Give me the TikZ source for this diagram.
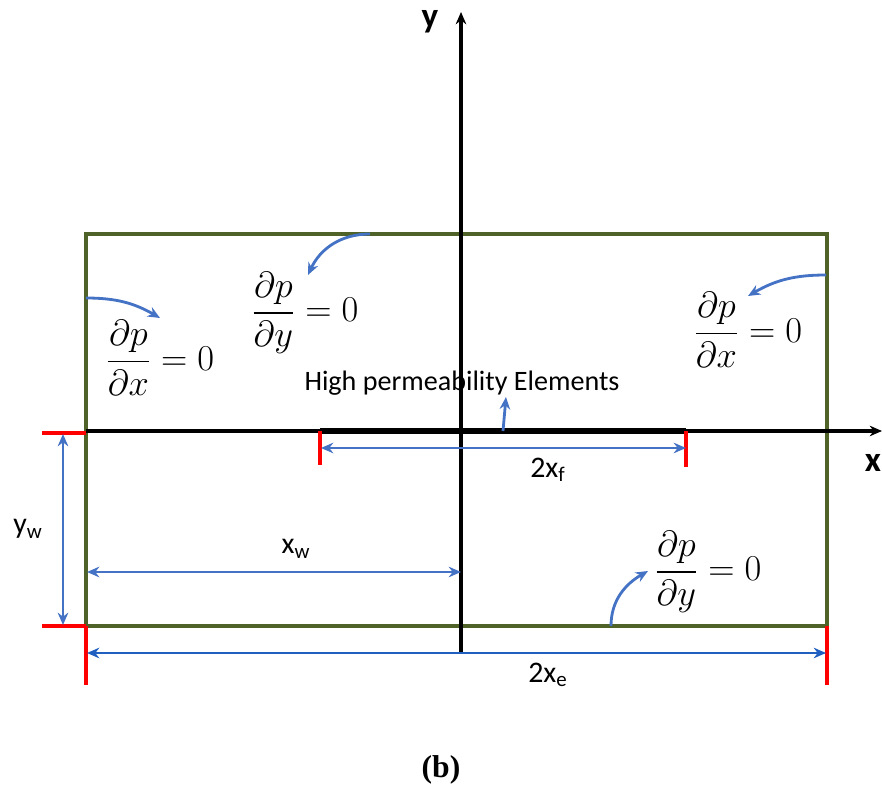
\documentclass[tikz,border=0pt]{standalone}
\usepackage{amsmath}
\usepackage{fontspec}
\setmainfont{Liberation Serif}
\setsansfont{Carlito}
\usetikzlibrary{arrows.meta,positioning}
\definecolor{wallgreen}{HTML}{4F6228}
\definecolor{dimblue}{HTML}{4472C4}
\definecolor{deepblue}{HTML}{1F5FBF}

\begin{document}
\begin{tikzpicture}[x=0.02cm, y=-0.02cm, >={Stealth[length=7pt,width=6pt]},
  every node/.style={font=\sffamily\fontsize{17}{20}\selectfont, inner sep=1pt},
  axis/.style={black, line width=1.8pt},
  wall/.style={wallgreen, line width=2pt},
  dim/.style={<->, dimblue, line width=1.4pt},
  tick/.style={red, line width=1.8pt},
  bendarrow/.style={->, dimblue, line width=1.6pt},
  eq/.style={font=\fontsize{20}{24}\selectfont}]
  \useasboundingbox (0,0) rectangle (882,786);
  % Reservoir boundary
  \coordinate (nw) at (86,234);
  \coordinate (se) at (827,626);
  \draw[wall] (nw) rectangle (se);
  % Axes
  \coordinate (ybot)   at (461,652);
  \coordinate (ytop)   at (461,12);
  \coordinate (xleft)  at (86,431);
  \coordinate (xright) at (882,431);
  \draw[axis,->] (ybot) -- (ytop);
  \draw[axis,->] (xleft) -- (xright);
  \node[font=\sffamily\fontsize{20}{24}\selectfont\bfseries] (ylab) at (430,22) {y};
  \node[font=\sffamily\fontsize{20}{24}\selectfont\bfseries] (xlab) at (873,463) {x};
  % High permeability elements (fracture)
  \coordinate (fl) at (320,431);
  \coordinate (fr) at (686,431);
  \draw[black, line width=3.4pt] (fl) -- (fr);
  \coordinate (flb) at (320,465);
  \coordinate (frb) at (686,467);
  \draw[tick] (fl) -- (flb);
  \draw[tick] (fr) -- (frb);
  \coordinate (fd1) at (321,448);
  \coordinate (fd2) at (686,448);
  \draw[dim] (fd1) -- (fd2);
  \node (xf) at (548,470) {2x\textsubscript{f}};
  \node[font=\sffamily\fontsize{16}{19}\selectfont] (hpe) at (462,383) {High permeability Elements};
  \coordinate (hpefoot) at (503,431);
  \coordinate (hpetip)  at (506,397);
  \draw[bendarrow] (hpefoot) -- (hpetip);
  % Well dimensions
  \coordinate (yw1) at (42,433);
  \coordinate (yw2) at (42,626);
  \coordinate (yw3) at (86,433);
  \coordinate (yw4) at (86,626);
  \draw[tick] (yw1) -- (yw3);
  \draw[tick] (yw2) -- (yw4);
  \coordinate (ywa) at (63,434);
  \coordinate (ywb) at (63,625);
  \draw[dim] (ywa) -- (ywb);
  \node (yw) at (28,529) {y\textsubscript{w}};
  \coordinate (xwa) at (87,572);
  \coordinate (xwb) at (461,572);
  \draw[dim] (xwa) -- (xwb);
  \node (xw) at (296,549) {x\textsubscript{w}};
  % Reservoir length
  \coordinate (xe1) at (86,685);
  \coordinate (xe2) at (827,685);
  \coordinate (sebot) at (827,626);
  \draw[tick] (yw4) -- (xe1);
  \draw[tick] (sebot) -- (xe2);
  \coordinate (xea) at (87,653);
  \coordinate (xeb) at (826,653);
  \draw[<->, deepblue, line width=1.6pt] (xea) -- (xeb);
  \node (xe) at (548,675) {2x\textsubscript{e}};
  % No-flow boundary conditions
  \node[eq] (bcleft)  at (160,358) {$\dfrac{\partial p}{\partial x}=0$};
  \node[eq] (bctop)   at (305,313) {$\dfrac{\partial p}{\partial y}=0$};
  \node[eq] (bcright) at (748,330) {$\dfrac{\partial p}{\partial x}=0$};
  \node[eq] (bcbot)   at (708,572) {$\dfrac{\partial p}{\partial y}=0$};
  \coordinate (a1s) at (370,234); \coordinate (a1e) at (308,275);
  \coordinate (a2s) at (86,298);  \coordinate (a2e) at (160,318);
  \coordinate (a3s) at (826,275); \coordinate (a3e) at (748,296);
  \coordinate (a4s) at (611,626); \coordinate (a4e) at (648,571);
  \draw[bendarrow] (a1s) to[out=180, in=65] (a1e);
  \draw[bendarrow] (a2s) to[out=0, in=150] (a2e);
  \draw[bendarrow] (a3s) to[out=180, in=30] (a3e);
  \draw[bendarrow] (a4s) to[out=90, in=210] (a4e);
  % Caption
  \node[font=\rmfamily\bfseries\fontsize{18}{21}\selectfont] (cap) at (441,770) {(b)};
\end{tikzpicture}
\end{document}
